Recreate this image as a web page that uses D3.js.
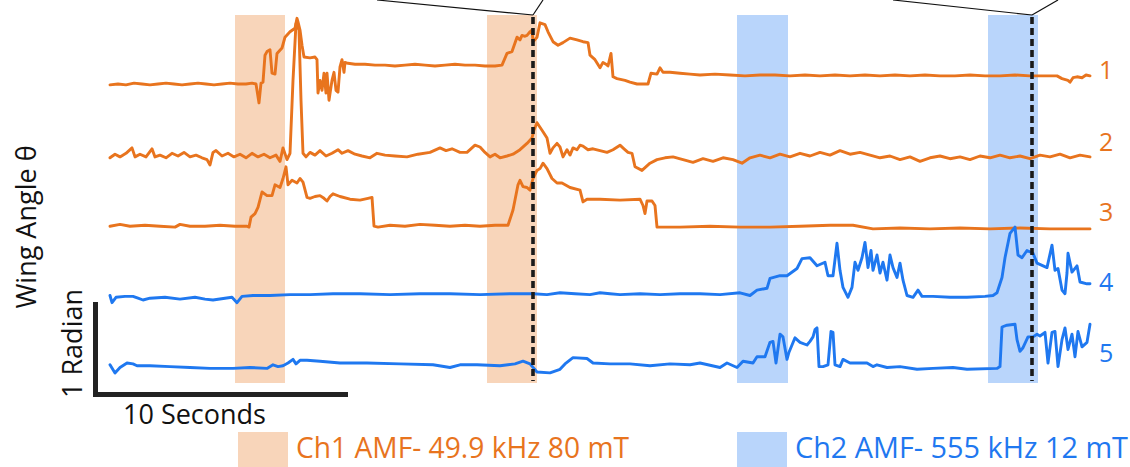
<!DOCTYPE html>
<html>
<head>
<meta charset="utf-8">
<script src="https://cdn.jsdelivr.net/npm/d3@7/dist/d3.min.js"></script>
<style>
  html, body { margin: 0; padding: 0; background: #fff; }
  svg { display: block; }
  text { font-family: "Open Sans", "Noto Sans", sans-serif; }
</style>
</head>
<body>
<div id="chart"></div>
<script>
// ---------------- DATA (time in s, angle in rad relative to each trace baseline) ----------------
const trace1 = [[0,-0.01],[0.32,0],[0.64,-0.01],[0.96,0.01],[1.28,0],[1.6,-0.01],[1.92,0],[2.24,0.01],[2.56,0],[2.88,-0.01],[3.2,0],[3.52,0.01],[3.84,0],[4.16,-0.01],[4.48,0],[4.8,0.01],[5.12,0],[5.44,0],[5.68,0.01],[5.84,0],[5.96,-0.21],[6.04,0.01],[6.12,0.02],[6.2,0.32],[6.28,0.36],[6.4,0.38],[6.48,0.12],[6.6,0.11],[6.68,0.34],[6.88,0.4],[7.0,0.52],[7.2,0.58],[7.4,0.62],[7.48,0.73],[7.52,0.69],[7.6,0.6],[7.68,0.43],[7.76,0.3],[8.0,0.29],[8.2,0.3],[8.28,0.27],[8.32,-0.1],[8.4,0.04],[8.48,-0.07],[8.56,0.12],[8.64,-0.1],[8.68,0.12],[8.76,-0.18],[8.88,0.04],[8.96,0.13],[9.04,-0.07],[9.12,-0.09],[9.2,0.19],[9.28,0.27],[9.36,0.13],[9.4,0.24],[9.52,0.23],[9.8,0.22],[10.2,0.22],[10.6,0.21],[11.0,0.21],[11.4,0.2],[11.8,0.21],[12.2,0.22],[12.6,0.21],[13.0,0.2],[13.4,0.21],[13.8,0.22],[14.2,0.21],[14.6,0.21],[15.0,0.2],[15.4,0.2],[15.68,0.21],[15.88,0.34],[16.08,0.36],[16.28,0.52],[16.4,0.49],[16.48,0.54],[16.6,0.53],[16.68,0.54],[16.8,0.58],[16.88,0.6],[16.92,0.47],[17.08,0.52],[17.2,0.68],[17.4,0.66],[17.52,0.58],[17.72,0.47],[17.92,0.43],[18.12,0.46],[18.4,0.51],[18.68,0.49],[18.92,0.47],[19.12,0.46],[19.2,0.32],[19.4,0.27],[19.6,0.18],[19.72,0.24],[19.84,0.22],[19.92,0.2],[20.04,0.34],[20.12,0.08],[20.28,0.06],[20.6,0.04],[20.8,0.02],[21.08,0],[21.52,0],[21.64,0.12],[21.88,0.11],[22.0,0.18],[22.12,0.13],[22.4,0.13],[22.8,0.12],[23.2,0.11],[23.6,0.1],[24.2,0.11],[24.8,0.1],[25.4,0.09],[26.0,0.1],[26.6,0.1],[27.2,0.09],[27.8,0.1],[28.4,0.09],[29.0,0.1],[29.6,0.09],[30.2,0.1],[30.8,0.09],[31.4,0.1],[32.0,0.09],[32.6,0.1],[33.2,0.09],[33.8,0.09],[34.4,0.1],[35.0,0.09],[35.6,0.09],[36.2,0.1],[36.8,0.09],[37.4,0.09],[37.88,0.09],[38.08,0.06],[38.32,0.04],[38.4,0.02],[38.52,0.07],[38.68,0.08],[38.88,0.07],[39.04,0.1],[39.2,0.09]];

const trace2 = [[0,-0.02],[0.2,0.02],[0.4,-0.01],[0.64,0.03],[0.88,0.09],[1.0,-0.01],[1.2,0.02],[1.44,-0.01],[1.68,0.08],[1.8,-0.01],[2.0,0.01],[2.24,-0.02],[2.48,0.03],[2.72,0],[2.96,0.04],[3.2,-0.01],[3.44,0.01],[3.68,-0.02],[3.88,-0.04],[4.0,-0.1],[4.12,0.04],[4.24,0.06],[4.48,0],[4.72,0.03],[4.96,-0.01],[5.2,0.02],[5.44,-0.02],[5.68,0.03],[5.92,-0.01],[6.16,0.02],[6.4,-0.02],[6.64,0.01],[6.8,-0.06],[6.92,0.09],[7.08,-0.04],[7.2,0.03],[7.32,0.84],[7.44,1.47],[7.56,1.4],[7.64,0.62],[7.72,0.03],[7.84,-0.01],[8.0,0.04],[8.2,0.01],[8.4,0.06],[8.64,0],[8.88,0.03],[9.12,0.07],[9.28,0.03],[9.52,0.06],[9.8,0.02],[10.08,0],[10.4,-0.02],[10.68,0.03],[11.0,0.01],[11.4,0],[11.88,-0.01],[12.32,0.02],[12.8,0.04],[13.2,0.09],[13.44,0.06],[13.68,0.08],[14.0,0.04],[14.28,0.04],[14.6,0.12],[14.8,0.1],[15.0,0.04],[15.2,-0.01],[15.4,0.02],[15.6,-0.02],[15.88,0],[16.12,0.02],[16.4,0.07],[16.68,0.14],[16.88,0.2],[16.96,0.29],[17.08,0.37],[17.2,0.32],[17.32,0.27],[17.48,0.2],[17.6,0.03],[17.72,0.09],[17.88,0.14],[18.0,0.1],[18.12,-0.01],[18.28,0.07],[18.4,0.01],[18.52,0.09],[18.68,0.07],[18.8,0.12],[18.92,0.11],[19.12,0.07],[19.32,0.08],[19.6,0.06],[19.88,0.04],[20.12,0.07],[20.4,0.12],[20.56,0.08],[20.72,0.04],[20.88,0.03],[21.0,-0.12],[21.28,-0.16],[21.6,-0.08],[21.88,-0.04],[22.2,-0.02],[22.52,-0.01],[22.92,-0.04],[23.32,-0.07],[23.72,-0.03],[24.12,-0.06],[24.52,-0.02],[24.92,-0.04],[25.28,-0.08],[25.6,-0.02],[26.0,0.01],[26.4,-0.02],[26.8,0.02],[27.2,-0.01],[27.6,0.03],[28.0,0],[28.4,0.04],[28.8,0.01],[29.2,0.06],[29.6,0.02],[30.0,0.04],[30.4,0.01],[30.8,-0.02],[31.2,0],[31.6,-0.04],[32.0,-0.01],[32.4,-0.06],[32.8,-0.02],[33.2,0],[33.6,-0.03],[34.0,-0.01],[34.4,-0.04],[34.8,0],[35.2,-0.02],[35.6,0.01],[36.0,-0.02],[36.4,0],[36.8,-0.03],[37.2,0.01],[37.6,-0.01],[38.0,0.02],[38.4,-0.02],[38.8,0.01],[39.2,-0.01]];

const trace3 = [[0,0],[0.4,0.02],[0.8,0],[1.4,0.01],[2.0,0],[2.6,-0.01],[2.8,0.02],[3.2,0],[3.8,0],[4.4,0.01],[5.0,0],[5.48,0],[5.56,-0.01],[5.64,0.1],[5.8,0.14],[5.92,0.21],[6.08,0.38],[6.28,0.34],[6.48,0.34],[6.6,0.46],[6.8,0.43],[6.92,0.53],[7.04,0.66],[7.12,0.46],[7.28,0.51],[7.48,0.48],[7.6,0.53],[7.72,0.49],[7.88,0.32],[8.0,0.31],[8.2,0.33],[8.4,0.34],[8.56,0.31],[8.68,0.28],[8.8,0.33],[8.92,0.36],[9.2,0.33],[9.6,0.3],[10.0,0.29],[10.32,0.31],[10.48,0.32],[10.56,0],[10.72,-0.01],[11.2,0.01],[11.8,0],[12.4,0.02],[13.0,0.01],[13.6,0],[14.2,0.01],[14.8,0],[15.4,0.01],[15.92,0.01],[16.12,0.18],[16.32,0.46],[16.4,0.51],[16.52,0.44],[16.68,0.43],[16.8,0.4],[16.92,0.53],[17.08,0.62],[17.2,0.64],[17.32,0.7],[17.48,0.64],[17.68,0.53],[17.88,0.48],[18.08,0.48],[18.4,0.43],[18.8,0.4],[18.92,0.27],[19.08,0.3],[19.6,0.3],[20.4,0.29],[21.2,0.3],[21.32,0.23],[21.4,0.14],[21.48,0.28],[21.68,0.28],[21.8,0.23],[21.88,-0.01],[22.8,-0.01],[24.0,0],[25.2,-0.01],[26.4,-0.01],[27.6,0],[28.8,0.01],[29.72,0.01],[30.52,-0.03],[31.6,-0.02],[32.8,-0.03],[34.0,-0.02],[35.2,-0.03],[36.4,-0.02],[37.6,-0.03],[39.2,-0.03]];

const trace4 = [[0,0.01],[0.08,-0.07],[0.24,-0.01],[0.6,0],[0.92,0],[1.12,-0.02],[1.32,-0.04],[1.6,-0.02],[2.2,-0.01],[2.8,-0.03],[3.4,-0.01],[3.8,-0.03],[4.12,-0.04],[4.6,-0.02],[4.88,-0.01],[5.08,-0.07],[5.28,0],[5.72,0.01],[6.4,0.01],[7.2,0.02],[8.0,0.02],[8.92,0.03],[10.0,0.03],[11.2,0.02],[12.4,0.03],[13.6,0.03],[14.8,0.02],[16.0,0.03],[16.92,0.03],[17.48,0.02],[18.0,0.04],[18.6,0.03],[19.2,0.02],[19.6,0.04],[20.0,0.03],[20.4,0.02],[21.2,0.03],[22.0,0.02],[22.8,0.03],[23.6,0.03],[24.4,0.02],[25.2,0.04],[25.6,0.01],[25.88,0.07],[26.28,0.09],[26.4,0.2],[26.8,0.23],[27.08,0.23],[27.48,0.31],[27.68,0.42],[28.0,0.43],[28.28,0.34],[28.6,0.38],[28.72,0.23],[28.92,0.23],[29.08,0.59],[29.2,0.29],[29.32,0.1],[29.52,-0.01],[29.68,0.1],[29.8,0.38],[29.92,0.29],[30.08,0.43],[30.2,0.6],[30.32,0.32],[30.44,0.51],[30.52,0.29],[30.68,0.46],[30.8,0.26],[30.92,0.38],[31.08,0.18],[31.2,0.46],[31.32,0.32],[31.48,0.21],[31.6,0.37],[31.72,0.18],[31.88,0.01],[32.12,-0.01],[32.32,0.07],[32.48,0],[32.92,0],[33.6,-0.01],[34.28,-0.01],[35.0,0],[35.32,0.01],[35.48,0.04],[35.68,0.21],[35.8,0.43],[36.0,0.7],[36.2,0.77],[36.32,0.46],[36.48,0.43],[36.68,0.51],[36.92,0.48],[37.08,0.37],[37.48,0.32],[37.68,0.57],[37.8,0.29],[37.92,0.31],[38.08,0.07],[38.2,0.03],[38.28,0.26],[38.32,0.48],[38.48,0.27],[38.68,0.34],[38.8,0.16],[39.08,0.14],[39.2,0.14]];

const trace5 = [[0,0.02],[0.2,-0.07],[0.4,-0.01],[0.68,0.04],[0.92,0.03],[1.08,0.01],[1.6,0.01],[2.4,0],[3.2,-0.01],[4.0,-0.02],[4.92,-0.02],[5.6,-0.01],[6.28,-0.02],[6.52,0.02],[6.72,0],[6.92,0.01],[7.12,0.04],[7.32,0.08],[7.44,0.03],[7.6,0.07],[7.88,0.07],[8.4,0.06],[9.2,0.04],[10.28,0.04],[11.6,0.03],[12.92,0.02],[13.6,-0.01],[14.0,0.02],[14.68,0.02],[15.6,0.01],[16.2,0.03],[16.52,0.06],[16.8,0.03],[17.08,-0.06],[17.6,-0.07],[18.0,-0.03],[18.2,0.03],[18.52,0.1],[19.08,0.09],[19.32,0.04],[20.0,0.03],[20.8,0.03],[21.6,0.01],[22.4,0.03],[23.2,0.02],[23.6,0.04],[24.4,-0.01],[24.68,0.04],[25.08,-0.01],[25.32,0.06],[25.72,0.04],[25.88,0.11],[26.2,0.11],[26.4,0.27],[26.52,0.28],[26.64,0.04],[26.8,0.36],[26.92,0.33],[27.08,0.08],[27.16,0.16],[27.4,0.32],[27.6,0.27],[27.88,0.24],[28.0,0.28],[28.12,0.33],[28.2,0.41],[28.28,0.43],[28.36,0],[28.52,0],[28.72,0.02],[28.84,0.39],[28.92,0.38],[29.0,0.02],[29.2,0],[29.32,0.08],[29.6,0.04],[30.28,0.04],[30.52,0],[30.68,0.02],[31.08,-0.01],[31.6,0],[32.28,-0.03],[32.92,-0.02],[33.72,-0.01],[34.28,-0.03],[35.48,-0.02],[35.6,0],[35.68,0.44],[35.88,0.46],[36.2,0.47],[36.28,0.3],[36.4,0.17],[36.52,0.21],[36.72,0.33],[36.92,0.33],[37.08,0.36],[37.2,0.34],[37.4,0.38],[37.52,0.04],[37.68,0.38],[37.8,0.39],[37.92,0],[38.08,0.3],[38.2,0.43],[38.32,0.19],[38.48,0.36],[38.6,0.11],[38.72,0.39],[38.88,0.22],[39.08,0.27],[39.2,0.47]];

const traces = [trace1, trace2, trace3, trace4, trace5];
const traceLabels = ["1", "2", "3", "4", "5"];
const traceOffsets = [3.45, 2.65, 1.87, 1.09, 0.31];   // rad
const traceChannel = ["ch1", "ch1", "ch1", "ch2", "ch2"];

const ch1Windows = [[5.0, 7.0], [15.08, 17.08]];   // s
const ch2Windows = [[25.08, 27.12], [35.12, 37.12]]; // s
const markerTimes = [16.92, 36.88];                 // s
const scaleBarSeconds = 10;
const scaleBarRadians = 1;
const legendLabels = ["Ch1 AMF- 49.9 kHz 80 mT", "Ch2 AMF- 555 kHz 12 mT"];

// ---------------- STYLE ----------------
const W = 1130, H = 467;
const colors = {
  ch1Line: "#E8741E", ch1Fill: "#F8D5BA",
  ch2Line: "#1F78F0", ch2Fill: "#B9D5FB"
};

const svg = d3.select("#chart").append("svg").attr("width", W).attr("height", H);

const x = d3.scaleLinear().domain([0, 10]).range([110, 360]);
const y = d3.scaleLinear().domain([0, 1]).range([394.5, 304.5]);

const bandTop = 15, bandBottom = 383;

// stimulus windows
const bands = svg.append("g");
ch1Windows.forEach(w => bands.append("rect")
  .attr("x", x(w[0])).attr("y", bandTop)
  .attr("width", x(w[1]) - x(w[0])).attr("height", bandBottom - bandTop)
  .attr("fill", colors.ch1Fill));
ch2Windows.forEach(w => bands.append("rect")
  .attr("x", x(w[0])).attr("y", bandTop)
  .attr("width", x(w[1]) - x(w[0])).attr("height", bandBottom - bandTop)
  .attr("fill", colors.ch2Fill));

// traces
const lines = svg.append("g");
traces.forEach((tr, i) => {
  const off = traceOffsets[i];
  const line = d3.line().x(d => x(d[0])).y(d => y(d[1] + off));
  const col = traceChannel[i] === "ch1" ? colors.ch1Line : colors.ch2Line;
  lines.append("path").datum(tr)
    .attr("d", line)
    .attr("fill", "none")
    .attr("stroke", col)
    .attr("stroke-width", 2.9)
    .attr("stroke-linejoin", "round")
    .attr("stroke-linecap", "round");
  lines.append("text")
    .attr("x", 1099)
    .attr("y", y(off) - 5)
    .attr("fill", col)
    .attr("font-size", 25)
    .text(traceLabels[i]);
});

// marker dashed lines + connectors
const marks = svg.append("g");
const connectorDx = [[-156, 10], [-139, 26]];
markerTimes.forEach((t, i) => {
  const mx = x(t);
  marks.append("line")
    .attr("x1", mx).attr("x2", mx)
    .attr("y1", bandTop + 2).attr("y2", bandBottom - 2)
    .attr("stroke", "#1a1a1a").attr("stroke-width", 3.6)
    .attr("stroke-dasharray", "7,4");
  marks.append("line")
    .attr("x1", mx).attr("y1", bandTop)
    .attr("x2", mx + connectorDx[i][0]).attr("y2", 0)
    .attr("stroke", "#111").attr("stroke-width", 1.2);
  marks.append("line")
    .attr("x1", mx).attr("y1", bandTop)
    .attr("x2", mx + connectorDx[i][1]).attr("y2", 0)
    .attr("stroke", "#111").attr("stroke-width", 1.2);
});

// scale bars
const sb = svg.append("g");
const sbX0 = 95.5, sbY0 = y(0);
const sbLen = x(scaleBarSeconds) - x(0);
sb.append("path")
  .attr("d", `M${sbX0},${y(scaleBarRadians)} L${sbX0},${sbY0} L${sbX0 + sbLen},${sbY0}`)
  .attr("fill", "none").attr("stroke", "#222").attr("stroke-width", 5)
  .attr("stroke-linejoin", "miter").attr("stroke-linecap", "square");

sb.append("text")
  .attr("x", 123).attr("y", 424)
  .attr("font-size", 27).attr("fill", "#111")
  .text(scaleBarSeconds + " Seconds");

sb.append("text")
  .attr("transform", `translate(82,${(y(0) + y(1)) / 2 - 6}) rotate(-90)`)
  .attr("text-anchor", "middle")
  .attr("font-size", 27).attr("fill", "#111")
  .text(scaleBarRadians + " Radian");

svg.append("text")
  .attr("transform", "translate(36,227) rotate(-90)")
  .attr("text-anchor", "middle")
  .attr("font-size", 27).attr("fill", "#111")
  .text("Wing Angle θ");

// legend
const lg = svg.append("g");
const legendItems = [
  { x: 238, fill: colors.ch1Fill, color: colors.ch1Line, label: legendLabels[0] },
  { x: 737, fill: colors.ch2Fill, color: colors.ch2Line, label: legendLabels[1] }
];
legendItems.forEach(it => {
  lg.append("rect").attr("x", it.x).attr("y", 432).attr("width", 50).attr("height", 35).attr("fill", it.fill);
  lg.append("text")
    .attr("x", it.x + 58).attr("y", 458)
    .attr("font-size", 29).attr("fill", it.color)
    .attr("textLength", 333).attr("lengthAdjust", "spacingAndGlyphs")
    .text(it.label);
});
</script>
</body>
</html>
